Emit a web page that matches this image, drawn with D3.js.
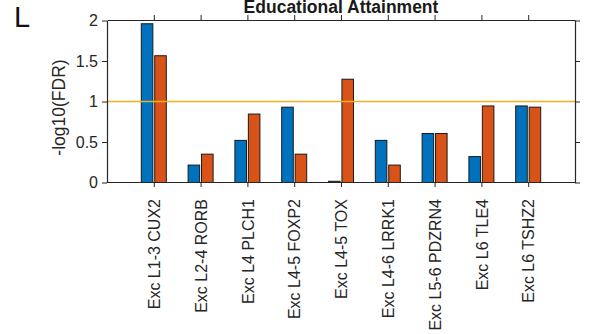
<!DOCTYPE html>
<html>
<head>
<meta charset="utf-8">
<script src="https://cdn.jsdelivr.net/npm/d3@7/dist/d3.min.js"></script>
<style>
  body { margin: 0; background: #fff; }
  text { font-family: "Liberation Sans", Arial, Helvetica, sans-serif; }
</style>
</head>
<body>
<div id="chart"></div>
<script>
// cell types along the x axis
const categories = [
  "Exc L1-3 CUX2", "Exc L2-4 RORB", "Exc L4 PLCH1", "Exc L4-5 FOXP2", "Exc L4-5 TOX",
  "Exc L4-6 LRRK1", "Exc L5-6 PDZRN4", "Exc L6 TLE4", "Exc L6 TSHZ2"
];
// -log10(FDR), two series per cell type
const seriesA = [1.96, 0.215, 0.52, 0.93, 0.015, 0.52, 0.605, 0.32, 0.945];
const seriesB = [1.565, 0.35, 0.845, 0.35, 1.275, 0.215, 0.605, 0.945, 0.93];
const yTicks = [0, 0.5, 1, 1.5, 2];
const threshold = 1;

const W = 589, H = 334;
const plot = { left: 107, right: 575, top: 20.5, bottom: 182.5 };
const axisColor = "#262626";
const tickFont = 16;

const svg = d3.select("#chart").append("svg")
  .attr("width", W)
  .attr("height", H);

const x = d3.scaleLinear().domain([0, categories.length + 1]).range([plot.left, plot.right]);
const y = d3.scaleLinear().domain([0, 2]).range([plot.bottom, plot.top]);
const inner = d3.scaleBand().domain(["a", "b"]).range([-12.5, 12.5]).paddingInner(0.14);

const rows = categories.map((c, i) => ({ name: c, pos: i + 1, a: seriesA[i], b: seriesB[i] }));

// bars
const groups = svg.append("g").selectAll("g")
  .data(rows)
  .join("g")
  .attr("transform", d => `translate(${x(d.pos)},0)`);

const colors = { a: "#0072BD", b: "#D95319" };
["a", "b"].forEach(key => {
  groups.append("rect")
    .attr("x", inner(key))
    .attr("width", inner.bandwidth())
    .attr("y", d => y(d[key]))
    .attr("height", d => y(0) - y(d[key]))
    .attr("fill", colors[key])
    .attr("stroke", "#1a1a1a")
    .attr("stroke-width", 1);
});

// threshold line
svg.append("line")
  .attr("x1", x(0)).attr("x2", x(categories.length + 1))
  .attr("y1", y(threshold)).attr("y2", y(threshold))
  .attr("stroke", "#EDB120")
  .attr("stroke-width", 1.6);

// axes (box on, ticks outward like the source)
const xPos = rows.map(d => d.pos);
const styleAxis = g => {
  g.select(".domain").attr("stroke", axisColor).attr("stroke-width", 1.2);
  g.selectAll(".tick line").attr("stroke", axisColor);
  g.selectAll("text").attr("fill", axisColor).attr("font-size", tickFont)
    .attr("font-family", '"Liberation Sans", Arial, sans-serif');
};

const xAxis = svg.append("g")
  .attr("transform", `translate(0,${y(0) - 0.5})`)
  .call(d3.axisBottom(x).tickValues(xPos).tickSize(5).tickSizeOuter(0)
    .tickFormat((d, i) => categories[i]))
  .call(styleAxis);
xAxis.selectAll("text")
  .attr("transform", "rotate(-90)")
  .attr("text-anchor", "end")
  .attr("x", -17)
  .attr("y", 0)
  .attr("dy", "0.35em");

svg.append("g")
  .attr("transform", `translate(0,${y(2) - 0.5})`)
  .call(d3.axisTop(x).tickValues(xPos).tickSize(5).tickSizeOuter(0).tickFormat(""))
  .call(styleAxis);

svg.append("g")
  .attr("transform", `translate(${x(0)},0)`)
  .call(d3.axisLeft(y).tickValues(yTicks).tickSize(5).tickSizeOuter(0).tickPadding(4)
    .tickFormat(d3.format("")))
  .call(styleAxis);

svg.append("g")
  .attr("transform", `translate(${x(categories.length + 1)},0)`)
  .call(d3.axisRight(y).tickValues(yTicks).tickSize(5).tickSizeOuter(0).tickFormat(""))
  .call(styleAxis);

// y label
svg.append("text")
  .attr("transform", `translate(65,${(y(0) + y(2)) / 2 + 6}) rotate(-90)`)
  .attr("text-anchor", "middle")
  .attr("font-size", 17.5)
  .attr("fill", axisColor)
  .text("-log10(FDR)");

// title
svg.append("text")
  .attr("x", (x(0) + x(categories.length + 1)) / 2)
  .attr("y", 13)
  .attr("text-anchor", "middle")
  .attr("font-size", 17.5)
  .attr("font-weight", "bold")
  .attr("fill", "#1a1a1a")
  .text("Educational Attainment");

// panel letter
svg.append("text")
  .attr("x", 14)
  .attr("y", 26.5)
  .attr("font-size", 29)
  .attr("fill", "#111")
  .text("L");
</script>
</body>
</html>
